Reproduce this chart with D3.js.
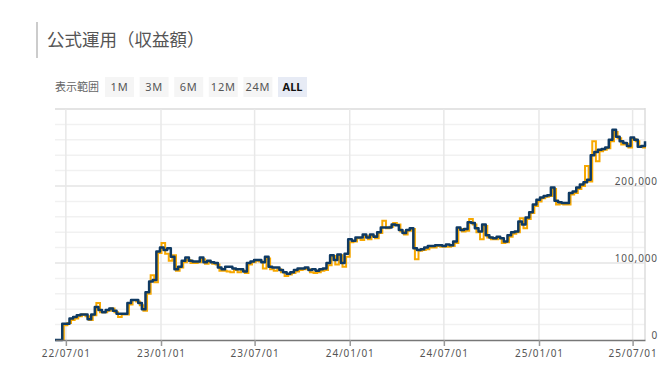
<!DOCTYPE html>
<html>
<head>
<meta charset="utf-8">
<script src="https://cdn.jsdelivr.net/npm/d3@7"></script>
<style>
    body { margin: 0; background: #fff; }
    svg { display: block; font-family: "Noto Sans CJK JP", "Noto Sans", sans-serif; }
</style>
</head>
<body>
<div id="chart"></div>
<script>
// chart values (weekly, in yen)
const startDate = "2022-06-10"
const navyK = [
    0, 0, 21, 21, 28, 30, 32, 33, 33, 27,
    33, 43, 39, 36, 39, 41, 38, 34, 34, 34,
    48, 52, 52, 48, 40, 62, 76, 78, 115, 120,
    117, 119, 108, 92, 95, 103, 107, 103, 102, 102,
    107, 101, 103, 101, 100, 94, 92, 95, 95, 93,
    92, 92, 89, 100, 102, 104, 104, 101, 108, 95,
    94, 94, 91, 88, 86, 88, 91, 93, 93, 94,
    91, 92, 90, 92, 93, 100, 110, 104, 111, 100,
    112, 131, 129, 133, 133, 137, 133, 137, 134, 140,
    146, 146, 146, 150, 149, 143, 139, 143, 145, 119,
    117, 118, 120, 122, 122, 123, 123, 122, 124, 123,
    128, 146, 143, 144, 153, 152, 145, 141, 150, 136,
    133, 132, 134, 132, 128, 136, 140, 141, 154, 150,
    159, 166, 176, 182, 185, 187, 188, 198, 181, 179,
    178, 178, 191, 193, 198, 202, 205, 208, 240, 244,
    247, 248, 250, 260, 273, 264, 258, 256, 252, 263,
    260, 251, 252, 258
]
const orangeK = [
    0, 0, 19, 22, 26, 28, 31, 33, 31, 26,
    32, 48, 36, 36, 38, 41, 36, 30, 33, 33,
    46, 52, 50, 45, 38, 60, 84, 75, 113, 126,
    112, 103, 110, 90, 94, 101, 104, 100, 100, 101,
    105, 99, 101, 99, 98, 90, 90, 89, 88, 91,
    88, 90, 87, 98, 101, 103, 102, 93, 106, 92,
    90, 92, 88, 83, 85, 87, 89, 91, 92, 92,
    88, 87, 88, 90, 91, 97, 109, 98, 110, 95,
    108, 127, 128, 132, 130, 135, 131, 135, 132, 139,
    155, 145, 147, 152, 150, 141, 137, 142, 144, 105,
    116, 117, 118, 120, 120, 122, 121, 121, 121, 122,
    126, 144, 141, 142, 157, 150, 140, 131, 148, 133,
    131, 131, 132, 126, 127, 134, 138, 140, 158, 145,
    157, 165, 174, 180, 184, 186, 187, 196, 176, 177,
    176, 176, 189, 191, 196, 200, 226, 206, 258, 232,
    245, 247, 249, 258, 270, 262, 254, 255, 250, 261,
    258, 252, 250, 256
]
const xTicks = ["2022-07-01", "2023-01-01", "2023-07-01", "2024-01-01", "2024-07-01", "2025-01-01", "2025-07-01"]
const yTicks = [0, 100000, 200000]
const rangeButtons = ["1M", "3M", "6M", "12M", "24M", "ALL"]
const title = "公式運用（収益額）"

let parseDate = d3.timeParse("%Y-%m-%d")
let start = parseDate(startDate)
let navy = navyK.map((v, i) => ({ date: d3.timeDay.offset(start, i * 7), value: v * 1000 }))
// daily series is sampled mid-week
let orange = orangeK.map((v, i) => ({ date: d3.timeDay.offset(start, i * 7 + 3), value: v * 1000 }))

let svg = d3.select("#chart")
            .append("svg")
                .attr("width", 668)
                .attr("height", 367)

// header
svg.append("rect")
    .attr("x", 36).attr("y", 22)
    .attr("width", 2).attr("height", 36)
    .attr("fill", "#cccccc")
svg.append("text")
    .attr("x", 47).attr("y", 46)
    .attr("font-size", "17.5px")
    .attr("fill", "#555")
    .text(title)

svg.append("text")
    .attr("x", 55).attr("y", 90.5)
    .attr("font-size", "11px")
    .attr("fill", "#666")
    .text("表示範囲")

let btn = svg.selectAll("g.btn")
    .data(rangeButtons)
    .enter().append("g")
        .attr("class", "btn")
        .attr("transform", (d, i) => `translate(${105 + i * 34.6},77)`)
btn.append("rect")
    .attr("width", 29).attr("height", 20)
    .attr("fill", d => d === "ALL" ? "#e7ebf5" : "#f5f5f5")
btn.append("text")
    .attr("x", 14.5).attr("y", 14)
    .attr("text-anchor", "middle")
    .attr("font-family", "'Noto Sans', sans-serif")
    .attr("font-size", "11px")
    .attr("letter-spacing", d => d === "ALL" ? "0px" : "0.8px")
    .attr("font-weight", d => d === "ALL" ? "bold" : "normal")
    .attr("fill", d => d === "ALL" ? "#111" : "#555")
    .text(d => d)

// scales
let x = d3.scaleTime()
            .domain([navy[0].date, navy[navy.length - 1].date])
            .range([55, 645])
let y = d3.scaleLinear()
            .domain([0, 300000])
            .range([340, 109])

// grid
svg.append("g")
    .selectAll("line")
    .data(d3.range(20000, 300001, 20000))
    .enter().append("line")
        .attr("x1", 55).attr("x2", 645)
        .attr("y1", d => y(d)).attr("y2", d => y(d))
        .attr("stroke", d => d % 100000 === 0 ? "#e4e4e4" : "#f1f1f1")
        .attr("stroke-width", d => d === 300000 ? 2 : 1.5)

svg.append("g")
    .selectAll("line")
    .data(xTicks.map(parseDate))
    .enter().append("line")
        .attr("x1", d => x(d)).attr("x2", d => x(d))
        .attr("y1", 109).attr("y2", 340)
        .attr("stroke", "#e8e8e8")
        .attr("stroke-width", 1.5)

svg.append("line")
    .attr("x1", 645).attr("x2", 645)
    .attr("y1", 108).attr("y2", 340)
    .attr("stroke", "#dddddd")
    .attr("stroke-width", 1.5)

// series
let line = d3.line()
            .x(d => Math.min(645, x(d.date)))
            .y(d => y(d.value))
            .curve(d3.curveStepAfter)

svg.append("path")
    .datum(orange)
    .attr("d", line)
    .attr("fill", "none")
    .attr("stroke", "#f7a800")
    .attr("stroke-width", 2)

svg.append("path")
    .datum(navy)
    .attr("d", line)
    .attr("fill", "none")
    .attr("stroke", "#0f3a63")
    .attr("stroke-width", 2.5)
    .attr("stroke-linejoin", "round")

// axes
let xAxis = svg.append("g")
    .attr("transform", "translate(0,340)")
    .call(d3.axisBottom(x)
            .tickValues(xTicks.map(parseDate))
            .tickFormat(d3.timeFormat("%y/%m/%d"))
            .tickSize(6)
            .tickSizeOuter(0))
xAxis.select(".domain").attr("stroke", "#777").attr("stroke-width", 1.5)
xAxis.selectAll(".tick line").attr("stroke", "#999").attr("stroke-width", 1.5)
xAxis.selectAll(".tick text")
    .attr("y", 10)
    .attr("fill", "#555")
    .attr("font-family", "'Noto Sans', sans-serif")
    .attr("font-size", "10px")
    .attr("letter-spacing", "0.9px")

let yAxis = svg.append("g")
    .attr("transform", "translate(658,0)")
    .call(d3.axisLeft(y)
            .tickValues(yTicks)
            .tickFormat(d3.format(","))
            .tickSize(0))
yAxis.select(".domain").remove()
yAxis.selectAll(".tick text")
    .attr("x", 0)
    .attr("dy", "-0.2em")
    .attr("fill", "#555")
    .attr("font-family", "'Noto Sans', sans-serif")
    .attr("font-size", "10px")
    .attr("letter-spacing", "0.9px")
</script>
</body>
</html>
